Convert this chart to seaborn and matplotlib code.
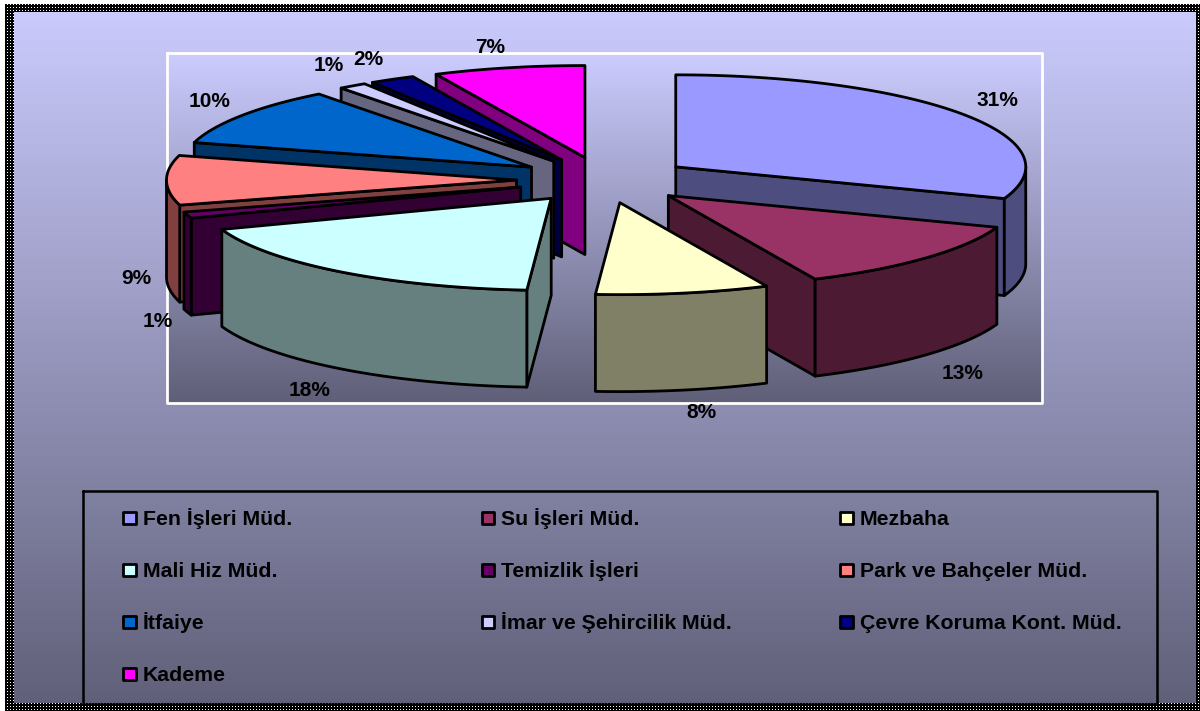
import numpy as np
import pandas as pd
import matplotlib
matplotlib.use('Agg')
import matplotlib.pyplot as plt
import seaborn as sns

names = ['Fen İşleri Müd.', 'Su İşleri Müd.', 'Mezbaha', 'Mali Hiz Müd.', 'Temizlik İşleri',
         'Park ve Bahçeler Müd.', 'İtfaiye', 'İmar ve Şehircilik Müd.', 'Çevre Koruma Kont. Müd.', 'Kademe']
# percent shares, labels round to 31, 13, 8, 18, 1, 9, 10, 1, 2, 7
shares = [30.6, 12.51, 8.0, 18.4, 1.1, 8.7, 10.3, 1.3, 2.1, 6.99]
colors = ['#9999FF', '#993366', '#FFFFCC', '#CCFFFF', '#660066',
          '#FF8080', '#0066CC', '#CCCCFF', '#000080', '#FF00FF']
# label shift from the middle of each outer arc
label_shift = [(35, -14), (37, 116), (18, 119), (-30, 119), (-30, 106),
               (-30, 98), (-32, -14), (-24, -20), (-24, -20), (-19, -20)]

CX, CY, RX, RY, DEPTH, EXPLODE = 604, 180, 350, 92, 97, 0.25
LW = 2.0

sns.set_theme(style='white')
plt.rcParams['font.family'] = ['Liberation Sans', 'DejaVu Sans']

W, H = 1200, 711
fig = plt.figure(figsize=(W / 100, H / 100), dpi=100)
ax = fig.add_axes([0, 0, 1, 1])


def gradient(top, bottom, n):
    return np.linspace(top, bottom, n)[:, None, :] / 255


# window background with the dotted frame
TOP, BOTTOM = (204, 204, 255), (95, 95, 120)
bg = np.repeat(gradient(TOP, BOTTOM, H), W, axis=1)
yy, xx = np.mgrid[0:H, 0:W]
frame = (xx < 14) | (xx >= 1196) | (yy < 12) | (yy >= 703)
dots = (xx % 3 == 1) & (yy % 3 == 1)
bg[frame] = 0
bg[frame & dots] = 1
bg[(xx < 5) | (yy < 4)] = 1
ax.imshow(bg, extent=(0, W, H, 0), aspect='auto', interpolation='nearest', zorder=0)

# plot area
ax.imshow(gradient(TOP, BOTTOM, 256), extent=(167, 1042, 403, 53), aspect='auto', zorder=1)
ax.plot([167, 1042, 1042, 167, 167], [53, 53, 403, 403, 53], color='white', lw=2, zorder=2)

# legend box
ax.plot([83, 1157, 1157, 83, 83], [491, 491, 704, 704, 491], color='black', lw=1.8, zorder=2)


def rim(theta):
    t = np.radians(theta)
    return RX * np.sin(t), -RY * np.cos(t)


def face(xs, ys, color, z):
    ax.fill(xs, ys, facecolor=color, edgecolor='black', lw=LW, joinstyle='round', zorder=z)


table = pd.DataFrame({'name': names, 'share': shares, 'color': colors})
table['end'] = table['share'].cumsum() / table['share'].sum() * 360
table['start'] = table['end'].shift(fill_value=0)
table['mid'] = (table['start'] + table['end']) / 2

# back slices first, the way they overlap in the picture
order = [9, 8, 7, 6, 5, 4, 3, 0, 1, 2]
for z, i in enumerate(order):
    row = table.loc[i]
    z = 3 + z * 0.1
    ox, oy = rim(row['mid'])
    px, py = CX + EXPLODE * ox, CY + EXPLODE * oy
    wall = tuple(c * 0.5 for c in matplotlib.colors.to_rgb(row['color']))
    a, b = row['start'], row['end']
    # cut faces
    for edge, show in ((a, 180 < a < 360), (b, 0 < b < 180)):
        if show:
            ex, ey = rim(edge)
            face([px, px + ex, px + ex, px], [py, py + ey, py + ey + DEPTH, py + DEPTH], wall, z)
    # outer wall, only the part turned to the viewer
    lo, hi = max(a, 90), min(b, 270)
    if lo < hi:
        rx, ry = rim(np.linspace(lo, hi, 60))
        face(np.r_[px + rx, px + rx[::-1]], np.r_[py + ry, py + ry[::-1] + DEPTH], wall, z)
    # top
    rx, ry = rim(np.linspace(a, b, 120))
    face(np.r_[px, px + rx], np.r_[py, py + ry], row['color'], z + 0.01)

for i, row in table.iterrows():
    ox, oy = rim(row['mid'])
    ax.text(CX + (1 + EXPLODE) * ox + label_shift[i][0], CY + (1 + EXPLODE) * oy + label_shift[i][1],
            f"{row['share']:.0f}%", fontsize=15, fontweight='bold', color='black',
            ha='center', va='center', zorder=6)

# legend entries, three to a row
table['lx'] = [129.7 + (i % 3) * 358.5 for i in range(len(table))]
table['ly'] = [518 + (i // 3) * 52 for i in range(len(table))]
sns.scatterplot(data=table, x='lx', y='ly', hue='name', palette=colors, marker='s', s=80,
                edgecolor='black', linewidth=2, legend=False, ax=ax, zorder=6)
for _, row in table.iterrows():
    ax.text(row['lx'] + 13, row['ly'] + 7, row['name'], fontsize=15.3, fontweight='bold', color='black',
            ha='left', va='baseline', zorder=6)

ax.set_xlim(0, W)
ax.set_ylim(H, 0)
ax.axis('off')
fig.savefig('out.png', dpi=100)
